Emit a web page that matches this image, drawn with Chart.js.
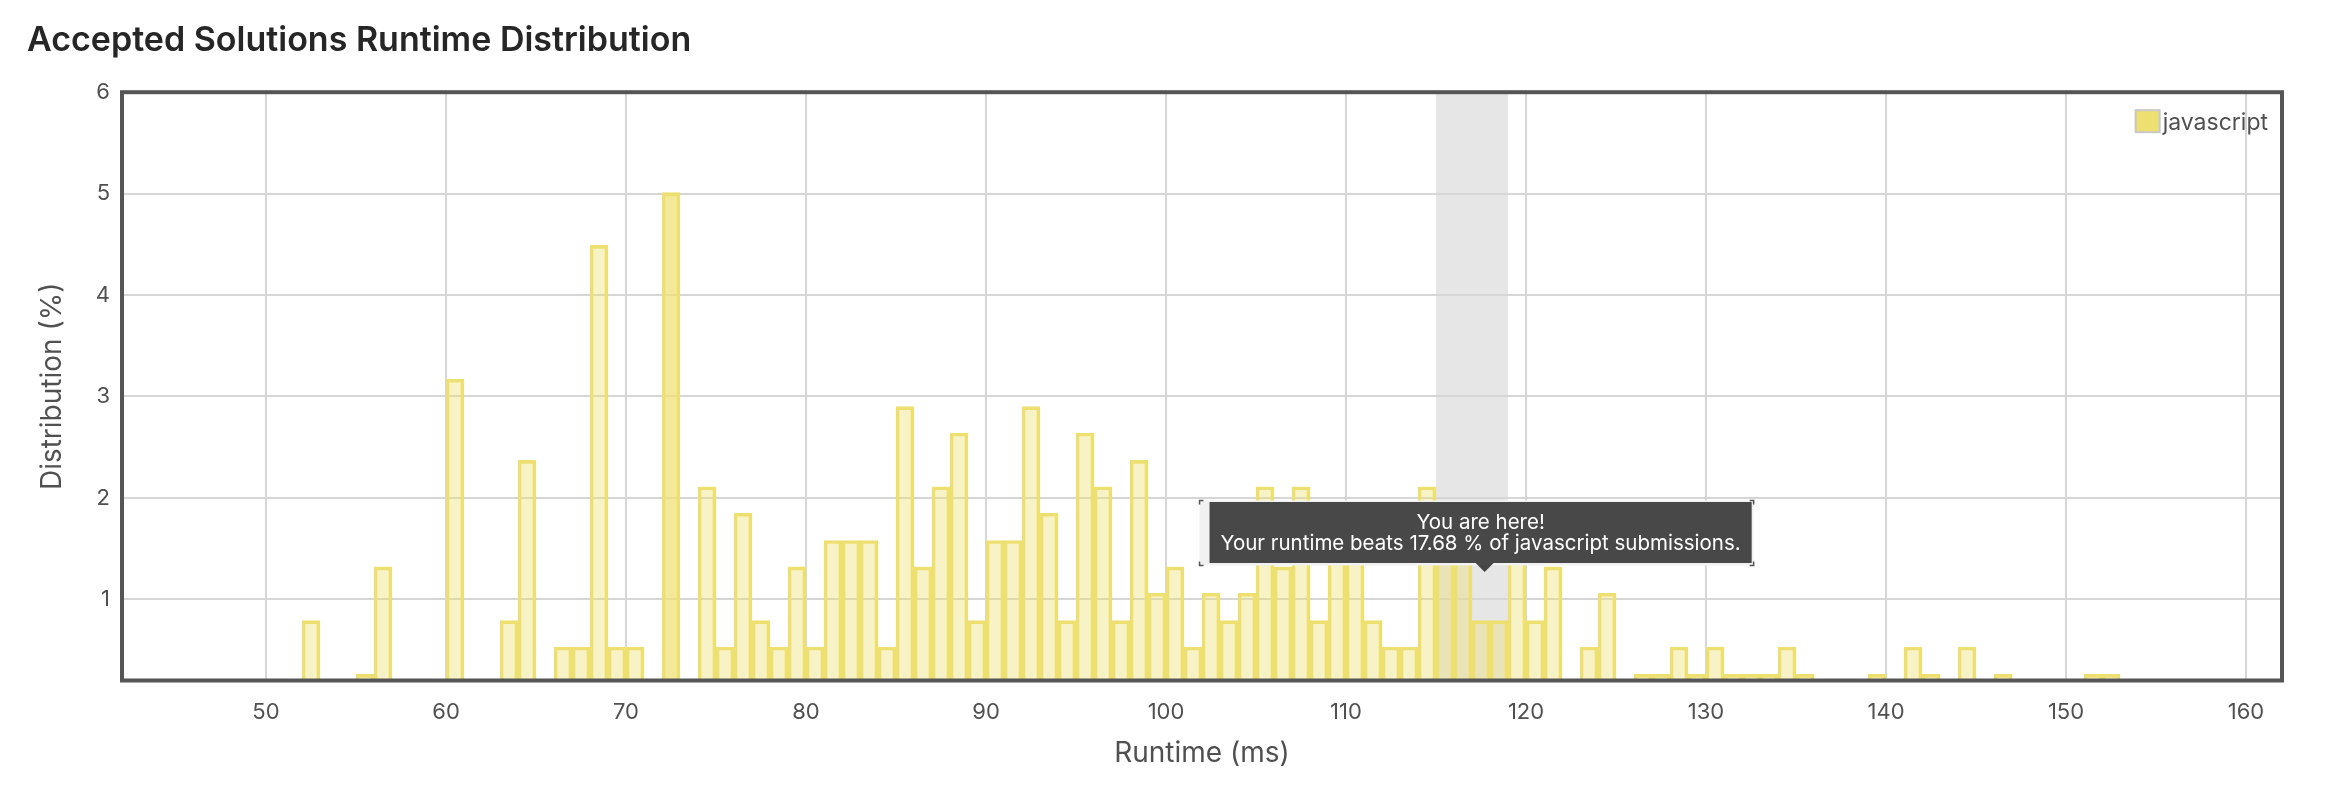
<!DOCTYPE html>
<html>
<head>
<meta charset="utf-8">
<script src="https://cdn.jsdelivr.net/npm/chart.js@4/dist/chart.umd.min.js"></script>
<style>
html,body{margin:0;padding:0;background:#ffffff;}
#wrap{width:2338px;height:798px;position:relative;}
canvas{display:block;}
</style>
</head>
<body>
<div id="wrap"><canvas id="c" width="2338" height="798"></canvas></div>
<script>
// ---- data ----
const chartTitle = "Accepted Solutions Runtime Distribution";
const seriesLabel = "javascript";
const runtimes = [52,55,56,60,63,64,66,67,68,69,70,72,74,75,76,77,78,79,80,81,82,83,84,85,86,87,88,89,90,91,92,93,94,95,96,97,98,99,100,101,102,103,104,105,106,107,108,109,110,111,112,113,114,115,116,117,118,119,120,121,123,124,126,127,128,129,130,131,132,133,134,135,139,141,142,144,146,151,152];
const distribution = [0.79,0.26,1.32,3.17,0.79,2.37,0.53,0.53,4.49,0.53,0.53,5.01,2.11,0.53,1.85,0.79,0.53,1.32,0.53,1.58,1.58,1.58,0.53,2.90,1.32,2.11,2.64,0.79,1.58,1.58,2.90,1.85,0.79,2.64,2.11,0.79,2.37,1.06,1.32,0.53,1.06,0.79,1.06,2.11,1.32,2.11,0.79,1.58,1.58,0.79,0.53,0.53,2.11,1.58,1.58,0.79,0.79,1.58,0.79,1.32,0.53,1.06,0.26,0.26,0.53,0.26,0.53,0.26,0.26,0.26,0.53,0.26,0.26,0.53,0.26,0.53,0.26,0.26,0.26];
const xTickLabels = [50,60,70,80,90,100,110,120,130,140,150,160];
const yTickLabels = [1,2,3,4,5,6];
const xRange = [42,162];
const yRange = [0.2,6];
const hoveredRuntime = 72;
const highlightRange = [115,119];
const yourRuntime = 117.7;
const tooltipAnchorValue = 1.27;
const tooltipLines = ["You are here!", "Your runtime beats 17.68 % of javascript submissions."];
const xTitle = "Runtime (ms)";
const yTitle = "Distribution (%)";

// ---- styles ----
const FONT = "Inter, 'Liberation Sans', sans-serif";
const barColor = "rgb(238,224,112)";
const barFill = "rgba(238,224,112,0.4)";
const barFillHover = "rgba(238,224,112,0.72)";
const textGray = "#505050";
const gridGray = "#d6d6d6";

const points = runtimes.map((r, i) => ({x: r + 0.5, y: distribution[i]}));

const bandPlugin = {
  id: 'band',
  beforeDraw(chart) {
    const {ctx, chartArea, scales: {x}} = chart;
    const x0 = x.getPixelForValue(highlightRange[0]);
    const x1 = x.getPixelForValue(highlightRange[1]);
    ctx.save();
    ctx.fillStyle = '#e6e6e6';
    ctx.fillRect(x0, chartArea.top, x1 - x0, chartArea.bottom - chartArea.top);
    ctx.restore();
  }
};

const framePlugin = {
  id: 'frame',
  afterDatasetsDraw(chart) {
    const {ctx, chartArea} = chart;
    ctx.save();
    ctx.strokeStyle = '#555555';
    ctx.lineWidth = 4;
    ctx.strokeRect(chartArea.left, chartArea.top, chartArea.right - chartArea.left, chartArea.bottom - chartArea.top);
    ctx.restore();
  }
};

const overlayPlugin = {
  id: 'overlay',
  afterDraw(chart) {
    const {ctx, chartArea, scales: {x, y}} = chart;
    ctx.save();
    // legend inside the plot, top right
    ctx.font = "23px " + FONT;
    ctx.textBaseline = 'alphabetic';
    const label = chart.data.datasets[0].label;
    const tw = ctx.measureText(label).width;
    const tx = chartArea.right - 14 - tw;
    const ty = chartArea.top + 38;
    ctx.fillStyle = barColor;
    ctx.fillRect(tx - 27, ty - 20, 24, 22);
    ctx.strokeStyle = '#c8c8c8';
    ctx.lineWidth = 2;
    ctx.strokeRect(tx - 27, ty - 20, 24, 22);
    ctx.fillStyle = textGray;
    ctx.fillText(label, tx, ty);

    // "You are here" tooltip
    const tipX = x.getPixelForValue(yourRuntime);
    const tipY = y.getPixelForValue(tooltipAnchorValue);
    ctx.font = "20.5px " + FONT;
    const w = Math.max(...tooltipLines.map(t => ctx.measureText(t).width)) + 22;
    const h = 61;
    const cx = tipX - 4;
    const bx = cx - w / 2;
    const by = tipY - 9 - h;
    // light outer frame
    ctx.fillStyle = '#f1f1f1';
    ctx.fillRect(bx - 10, by - 1.5, w + 12, h + 4);
    ctx.strokeStyle = '#555555';
    ctx.lineWidth = 1.5;
    const ox0 = bx - 10, oy0 = by - 1.5, ox1 = bx + w + 2, oy1 = by + h + 2.5, k = 4;
    ctx.beginPath();
    ctx.moveTo(ox0, oy0 + k); ctx.lineTo(ox0, oy0); ctx.lineTo(ox0 + k, oy0);
    ctx.moveTo(ox1 - k, oy0); ctx.lineTo(ox1, oy0); ctx.lineTo(ox1, oy0 + k);
    ctx.moveTo(ox0, oy1 - k); ctx.lineTo(ox0, oy1); ctx.lineTo(ox0 + k, oy1);
    ctx.moveTo(ox1 - k, oy1); ctx.lineTo(ox1, oy1); ctx.lineTo(ox1, oy1 - k);
    ctx.stroke();
    // dark box
    ctx.fillStyle = 'rgba(0,0,0,0.7)';
    ctx.beginPath();
    ctx.rect(bx, by, w, h);
    ctx.fill();
    ctx.beginPath();
    ctx.moveTo(tipX - 9, by + h);
    ctx.lineTo(tipX, tipY);
    ctx.lineTo(tipX + 9, by + h);
    ctx.closePath();
    ctx.fill();
    ctx.fillStyle = '#ffffff';
    ctx.textAlign = 'center';
    ctx.fillText(tooltipLines[0], cx, by + 27.3);
    ctx.fillText(tooltipLines[1], cx, by + 48);
    ctx.restore();
  }
};

new Chart(document.getElementById('c'), {
  type: 'bar',
  data: {
    datasets: [{
      label: seriesLabel,
      data: points,
      backgroundColor: runtimes.map(r => r === hoveredRuntime ? barFillHover : barFill),
      borderColor: barColor,
      borderWidth: 3,
      barPercentage: 1,
      categoryPercentage: 1
    }]
  },
  options: {
    responsive: false,
    animation: false,
    devicePixelRatio: 1,
    layout: {padding: {left: 27, right: 56, top: 0, bottom: 20}},
    plugins: {
      legend: {display: false},
      tooltip: {enabled: false},
      title: {
        display: true,
        text: chartTitle,
        align: 'start',
        color: '#262626',
        font: {family: FONT, size: 34, weight: '600'},
        padding: {top: 20.6, bottom: 30.8}
      }
    },
    scales: {
      x: {
        type: 'linear',
        offset: false,
        min: xRange[0],
        max: xRange[1],
        afterBuildTicks: s => { s.ticks = xTickLabels.map(v => ({value: v})); },
        afterFit: s => { s.height = 97.5; },
        grid: {color: gridGray, lineWidth: 2, drawTicks: false, offset: false},
        border: {display: false},
        ticks: {color: textGray, font: {family: FONT, size: 22}, padding: 19, maxRotation: 0, autoSkip: false},
        title: {display: true, text: xTitle, color: textGray, font: {family: FONT, size: 28}, padding: {top: 0, bottom: 8}}
      },
      y: {
        min: yRange[0],
        max: yRange[1],
        afterBuildTicks: s => { s.ticks = yTickLabels.map(v => ({value: v})); },
        afterFit: s => { s.width = 95; },
        grid: {color: gridGray, lineWidth: 2, drawTicks: false},
        border: {display: false},
        ticks: {color: textGray, font: {family: FONT, size: 22}, padding: 12},
        title: {display: true, text: yTitle, color: textGray, font: {family: FONT, size: 28}, padding: {top: 9, bottom: 0}}
      }
    }
  },
  plugins: [bandPlugin, framePlugin, overlayPlugin]
});
</script>
</body>
</html>
